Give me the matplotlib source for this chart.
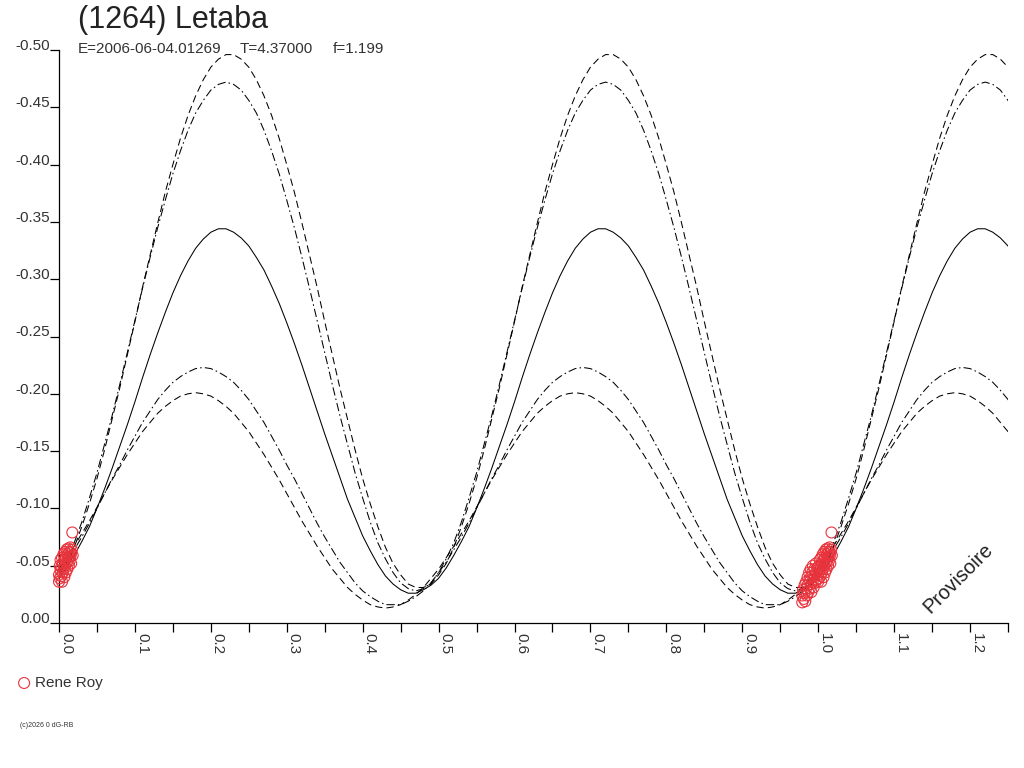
import matplotlib
matplotlib.use('Agg')
import matplotlib.pyplot as plt
from matplotlib.ticker import MultipleLocator, FormatStrFormatter

plt.rcParams['font.family'] = ['Liberation Sans', 'DejaVu Sans']

title = '(1264) Letaba'
epoch_txt = 'E=2006-06-04.01269'
period_txt = 'T=4.37000'
freq_txt = 'f=1.199'
observer = 'Rene Roy'

# model curves, phase 0..1 step 0.01
phase = [i / 100 for i in range(101)]

mean_curve = [
    -0.039, -0.048, -0.059, -0.071, -0.084, -0.100, -0.117, -0.135, -0.154, -0.173,
    -0.193, -0.214, -0.234, -0.253, -0.271, -0.288, -0.303, -0.316, -0.327, -0.335,
    -0.341, -0.344, -0.344, -0.341, -0.336, -0.329, -0.319, -0.308, -0.294, -0.279,
    -0.262, -0.244, -0.225, -0.205, -0.185, -0.165, -0.146, -0.127, -0.108, -0.092,
    -0.076, -0.063, -0.051, -0.041, -0.034, -0.029, -0.026, -0.026, -0.029, -0.033,
    -0.039, -0.048, -0.059, -0.071, -0.084, -0.100, -0.117, -0.135, -0.154, -0.173,
    -0.193, -0.214, -0.234, -0.253, -0.271, -0.288, -0.303, -0.316, -0.327, -0.335,
    -0.341, -0.344, -0.344, -0.341, -0.336, -0.329, -0.319, -0.308, -0.294, -0.279,
    -0.262, -0.244, -0.225, -0.205, -0.185, -0.165, -0.146, -0.127, -0.108, -0.092,
    -0.076, -0.063, -0.051, -0.041, -0.034, -0.029, -0.026, -0.026, -0.029, -0.033,
    -0.039]

upper_dash = [
    -0.042, -0.052, -0.066, -0.084, -0.104, -0.126, -0.151, -0.178, -0.205, -0.234,
    -0.263, -0.293, -0.321, -0.349, -0.376, -0.400, -0.423, -0.443, -0.460, -0.474,
    -0.485, -0.492, -0.496, -0.496, -0.492, -0.485, -0.474, -0.460, -0.443, -0.423,
    -0.400, -0.376, -0.349, -0.321, -0.293, -0.263, -0.234, -0.205, -0.178, -0.151,
    -0.126, -0.104, -0.084, -0.066, -0.052, -0.042, -0.034, -0.031, -0.031, -0.034,
    -0.042, -0.052, -0.066, -0.084, -0.104, -0.126, -0.151, -0.178, -0.205, -0.234,
    -0.263, -0.293, -0.321, -0.349, -0.376, -0.400, -0.423, -0.443, -0.460, -0.474,
    -0.485, -0.492, -0.496, -0.496, -0.492, -0.485, -0.474, -0.460, -0.443, -0.423,
    -0.400, -0.376, -0.349, -0.321, -0.293, -0.263, -0.234, -0.205, -0.178, -0.151,
    -0.126, -0.104, -0.084, -0.066, -0.052, -0.042, -0.034, -0.031, -0.031, -0.034,
    -0.042]

upper_dashdot = [
    -0.044, -0.056, -0.070, -0.088, -0.109, -0.131, -0.156, -0.181, -0.208, -0.236,
    -0.264, -0.292, -0.319, -0.345, -0.369, -0.392, -0.412, -0.430, -0.445, -0.456,
    -0.465, -0.470, -0.472, -0.470, -0.465, -0.456, -0.445, -0.430, -0.412, -0.392,
    -0.369, -0.345, -0.319, -0.292, -0.264, -0.236, -0.208, -0.181, -0.156, -0.131,
    -0.109, -0.088, -0.070, -0.056, -0.044, -0.035, -0.030, -0.028, -0.030, -0.035,
    -0.044, -0.056, -0.070, -0.088, -0.109, -0.131, -0.156, -0.181, -0.208, -0.236,
    -0.264, -0.292, -0.319, -0.345, -0.369, -0.392, -0.412, -0.430, -0.445, -0.456,
    -0.465, -0.470, -0.472, -0.470, -0.465, -0.456, -0.445, -0.430, -0.412, -0.392,
    -0.369, -0.345, -0.319, -0.292, -0.264, -0.236, -0.208, -0.181, -0.156, -0.131,
    -0.109, -0.088, -0.070, -0.056, -0.044, -0.035, -0.030, -0.028, -0.030, -0.035,
    -0.044]

lower_dashdot = [
    -0.044, -0.053, -0.064, -0.075, -0.087, -0.100, -0.113, -0.126, -0.138, -0.151,
    -0.163, -0.175, -0.185, -0.195, -0.203, -0.210, -0.215, -0.219, -0.222, -0.223,
    -0.222, -0.219, -0.215, -0.210, -0.203, -0.195, -0.185, -0.175, -0.163, -0.151,
    -0.138, -0.126, -0.113, -0.100, -0.087, -0.075, -0.064, -0.053, -0.044, -0.035,
    -0.028, -0.023, -0.019, -0.016, -0.016, -0.016, -0.019, -0.023, -0.028, -0.035,
    -0.044, -0.053, -0.064, -0.075, -0.087, -0.100, -0.113, -0.126, -0.138, -0.151,
    -0.163, -0.175, -0.185, -0.195, -0.203, -0.210, -0.215, -0.219, -0.222, -0.223,
    -0.222, -0.219, -0.215, -0.210, -0.203, -0.195, -0.185, -0.175, -0.163, -0.151,
    -0.138, -0.126, -0.113, -0.100, -0.087, -0.075, -0.064, -0.053, -0.044, -0.035,
    -0.028, -0.023, -0.019, -0.016, -0.016, -0.016, -0.019, -0.023, -0.028, -0.035,
    -0.044]

lower_dash = [
    -0.047, -0.057, -0.067, -0.078, -0.089, -0.101, -0.113, -0.125, -0.136, -0.147,
    -0.157, -0.167, -0.175, -0.183, -0.189, -0.194, -0.198, -0.200, -0.201, -0.200,
    -0.198, -0.194, -0.189, -0.183, -0.175, -0.167, -0.157, -0.147, -0.136, -0.125,
    -0.113, -0.101, -0.089, -0.078, -0.067, -0.057, -0.047, -0.039, -0.031, -0.025,
    -0.020, -0.016, -0.014, -0.013, -0.014, -0.016, -0.020, -0.025, -0.031, -0.039,
    -0.047, -0.057, -0.067, -0.078, -0.089, -0.101, -0.113, -0.125, -0.136, -0.147,
    -0.157, -0.167, -0.175, -0.183, -0.189, -0.194, -0.198, -0.200, -0.201, -0.200,
    -0.198, -0.194, -0.189, -0.183, -0.175, -0.167, -0.157, -0.147, -0.136, -0.125,
    -0.113, -0.101, -0.089, -0.078, -0.067, -0.057, -0.047, -0.039, -0.031, -0.025,
    -0.020, -0.016, -0.014, -0.013, -0.014, -0.016, -0.020, -0.025, -0.031, -0.039,
    -0.047]

# observations (phase, mag)
obs_phase = [0.979, 0.979, 0.980, 0.981, 0.982, 0.982, 0.983, 0.984, 0.984, 0.985,
             0.986, 0.986, 0.987, 0.988, 0.988, 0.989, 0.990, 0.990, 0.991, 0.991,
             0.992, 0.993, 0.993, 0.994, 0.995, 0.995, 0.996, 0.997, 0.997, 0.998,
             0.999,
             0.000, 0.000, 0.001, 0.001, 0.002, 0.002, 0.003, 0.003, 0.004, 0.004,
             0.005, 0.005, 0.006, 0.006, 0.007, 0.007, 0.008, 0.008, 0.009, 0.009,
             0.010, 0.010, 0.011, 0.011, 0.012, 0.012, 0.013, 0.013, 0.014, 0.014,
             0.015, 0.015, 0.016, 0.016, 0.017, 0.018, 0.0175]
obs_mag = [-0.018, -0.024, -0.029, -0.021, -0.033, -0.026, -0.019, -0.036, -0.030, -0.024,
           -0.040, -0.033, -0.027, -0.044, -0.037, -0.030, -0.047, -0.040, -0.034, -0.027,
           -0.044, -0.037, -0.050, -0.031, -0.041, -0.047, -0.035, -0.052, -0.044, -0.038,
           -0.048,
           -0.036, -0.042, -0.050, -0.039, -0.046, -0.055, -0.041, -0.049, -0.057, -0.036,
           -0.044, -0.052, -0.060, -0.047, -0.040, -0.055, -0.062, -0.050, -0.044, -0.057,
           -0.064, -0.052, -0.047, -0.060, -0.055, -0.065, -0.050, -0.058, -0.062, -0.054,
           -0.066, -0.058, -0.061, -0.052, -0.064, -0.059, -0.079]

xmax = 1.25

fig = plt.figure(figsize=(10.24, 7.68), dpi=100)
ax = fig.add_axes([59/1024, 1-623/768, 949/1024, 573/768])

# repeat the folded cycle past phase 1
ph2 = phase + [p + 1 for p in phase[1:]]
lw = 0.75
dash = (0, (7, 4))
dashdot = (0, (8, 3, 1.5, 3))
ax.plot(ph2, upper_dash + upper_dash[1:], color='black', lw=lw, ls=dash)
ax.plot(ph2, lower_dash + lower_dash[1:], color='black', lw=lw, ls=dash)
ax.plot(ph2, upper_dashdot + upper_dashdot[1:], color='black', lw=lw, ls=dashdot)
ax.plot(ph2, lower_dashdot + lower_dashdot[1:], color='black', lw=lw, ls=dashdot)
ax.plot(ph2, mean_curve + mean_curve[1:], color='black', lw=lw)

xs, ys = [], []
for p, m in zip(obs_phase, obs_mag):
    for q in (p, p + 1):
        if 0 <= q <= xmax:
            xs.append(q)
            ys.append(m)
sc = ax.scatter(xs, ys, s=62, facecolors='none', edgecolors='#e8333c',
                linewidths=0.8, zorder=5, clip_on=False)

ax.set_xlim(0, xmax)
ax.set_ylim(0, -0.5)
for s in ['top', 'right']:
    ax.spines[s].set_visible(False)
for s in ['left', 'bottom']:
    ax.spines[s].set_linewidth(0.9)

ax.xaxis.set_major_locator(MultipleLocator(0.1))
ax.xaxis.set_minor_locator(MultipleLocator(0.05))
ax.xaxis.set_major_formatter(FormatStrFormatter('%.1f'))
ax.yaxis.set_major_locator(MultipleLocator(0.05))
ax.yaxis.set_major_formatter(FormatStrFormatter('%.2f'))
ax.tick_params(axis='x', which='both', direction='out', length=6.5, width=0.9,
               labelsize=11, labelcolor='#333333', pad=1, labelrotation=-90)
ax.tick_params(axis='y', direction='out', length=6.5, width=0.9,
               labelsize=11, labelcolor='#333333', pad=0)
for lab in ax.get_xticklabels():
    lab.set_horizontalalignment('left')
for lab in ax.get_yticklabels():
    lab.set_verticalalignment('baseline')

fig.text(78/1024, 1-28/768, title, fontsize=22, color='#222222')
fig.text(78/1024, 1-53/768, epoch_txt, fontsize=11, color='#333333')
fig.text(240/1024, 1-53/768, period_txt, fontsize=11, color='#333333')
fig.text(333/1024, 1-53/768, freq_txt, fontsize=11, color='#333333')

fig.legend([sc], [observer], loc='center left', bbox_to_anchor=(18/1024, 1-683/768),
           frameon=False, handlelength=0.8, handletextpad=0.3, borderpad=0,
           borderaxespad=0, fontsize=11, labelcolor='#333333')

fig.text(958/1024, 1-578/768, 'Provisoire', fontsize=14.5, rotation=45,
         ha='center', va='center', color='#222222')
fig.text(20/1024, 1-727/768, '(c)2026 0 dG-RB', fontsize=5, color='#333333')

fig.savefig('out.png', dpi=100)
